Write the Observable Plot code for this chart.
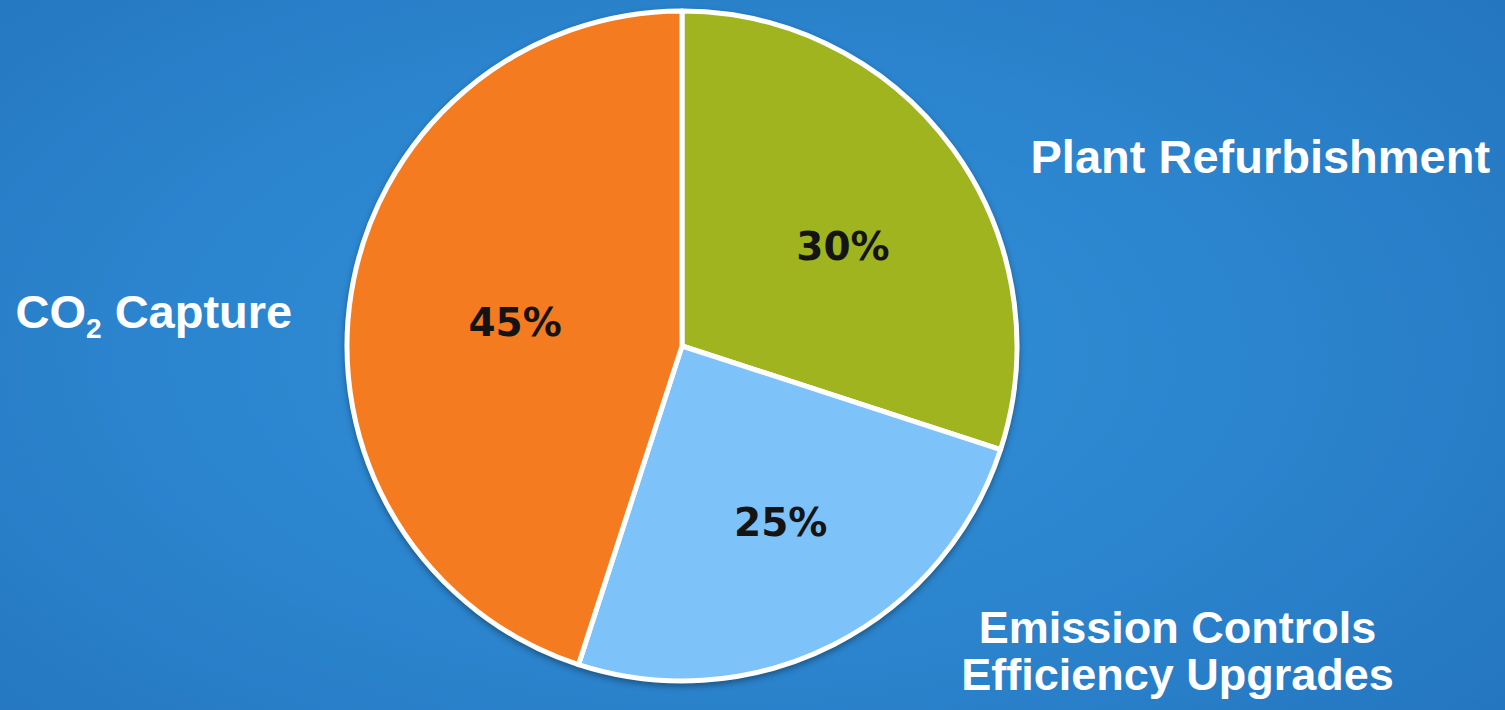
<!DOCTYPE html>
<html><head><meta charset="utf-8">
<script src="https://cdn.jsdelivr.net/npm/d3@7"></script>
<script src="https://cdn.jsdelivr.net/npm/@observablehq/plot@0.6"></script>
<style>
html,body{margin:0;padding:0;width:1505px;height:710px;overflow:hidden;
  background:radial-gradient(ellipse 70% 80% at 47% 50%, #3190d8 0%, #2b84cd 55%, #2475bf 100%);}
#chart{width:1505px;height:710px;}
</style></head><body><div id="chart"></div>
<script>
// ---- data ----
const categories = ["Plant Refurbishment", "Emission Controls\nEfficiency Upgrades", "CO₂ Capture"];
const values = [30, 25, 45];
const valueLabels = ["30%", "25%", "45%"];
const colors = ["#a0b41f", "#7dc2f8", "#f57b20"];

// ---- layout ----
const W = 1505, H = 710;
const cx = 682, cy = 346, R = 335;
const labelRadius = [0.57, 0.6, 0.5];
const labelNudge = [[6, 13], [7, -2], [-2, 3]];
const catLayout = [
  {x: 1030, y: 172, anchor: "start"},
  {x: 1177, y: 689, anchor: "middle"},
  {x: 15, y: 327, anchor: "start"}
];

const data = categories.map((c, i) => ({category: c, value: values[i], label: valueLabels[i]}));
const arcs = d3.pie().sort(null).value(d => d.value)(data);
const pctPts = arcs.map((a, i) => {
  const m = (a.startAngle + a.endAngle) / 2, r = R * labelRadius[i];
  return {label: a.data.label,
    x: cx + r * Math.sin(m) + labelNudge[i][0],
    y: cy - r * Math.cos(m) + labelNudge[i][1]};
});
const catPts = data.map((d, i) => ({text: d.category, ...catLayout[i]}));

const arcGen = d3.arc().innerRadius(0).outerRadius(R);

const chart = Plot.plot({
  width: W, height: H, margin: 0,
  style: {background: "transparent", overflow: "visible"},
  x: {domain: [0, W], range: [0, W], axis: null},
  y: {domain: [0, H], range: [0, H], axis: null},
  color: {type: "ordinal", domain: categories, range: colors},
  marks: [
    Plot.dot(data, {x: () => cx, y: () => cy, fill: "category", r: 0}),
    (index, scales) => {
      const g = d3.create("svg:g")
        .attr("transform", `translate(${scales.x(cx)},${scales.y(cy)})`)
        .style("filter", "drop-shadow(0px 3px 3px rgba(0,0,0,0.35))");
      g.selectAll("path").data(arcs).join("path")
        .attr("d", arcGen)
        .attr("fill", d => scales.color(d.data.category))
        .attr("stroke", "white").attr("stroke-width", 5).attr("stroke-linejoin", "round");
      return g.node();
    },
    Plot.text(pctPts, {x: "x", y: "y", text: "label", fill: "#141414",
      fontFamily: "DejaVu Sans", fontWeight: "bold", fontSize: 39, textAnchor: "middle", lineAnchor: "middle"}),
    Plot.text(catPts.filter(d => d.anchor === "start"), {x: "x", y: "y", text: "text", fill: "white",
      fontFamily: "Liberation Sans, Arial, sans-serif", fontWeight: "bold", fontSize: 47,
      textAnchor: "start", lineAnchor: "bottom"}),
    Plot.text(catPts.filter(d => d.anchor === "middle"), {x: "x", y: "y", text: "text", fill: "white",
      fontFamily: "Liberation Sans, Arial, sans-serif", fontWeight: "bold", fontSize: 45,
      textAnchor: "middle", lineAnchor: "bottom", lineHeight: 1.03})
  ]
});
document.getElementById("chart").appendChild(chart);

// subscript for CO₂
d3.select(chart).selectAll("text").each(function() {
  if (this.textContent === "CO₂ Capture") {
    const t = d3.select(this);
    t.text(null);
    t.append("tspan").text("CO");
    t.append("tspan").attr("font-size", 28).attr("dy", 10).text("2");
    t.append("tspan").attr("dy", -10).text(" Capture");
  }
});
</script></body></html>
